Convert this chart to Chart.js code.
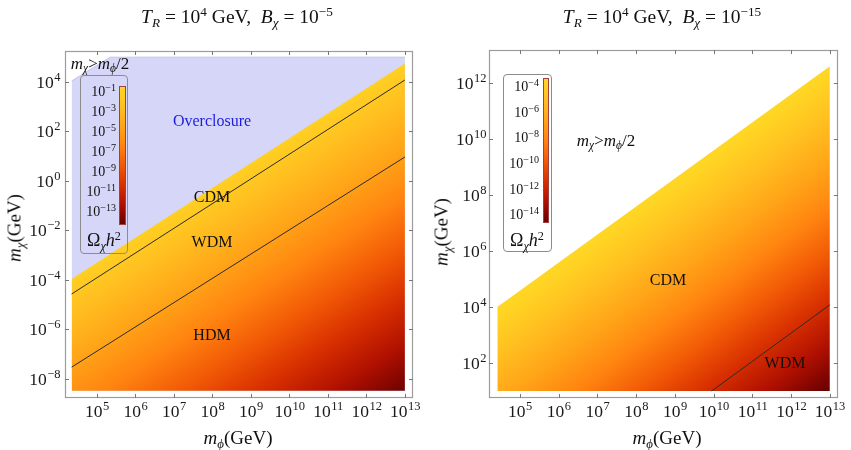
<!DOCTYPE html>
<html lang="en">
<head>
<meta charset="UTF-8">
<title>Relic density of chi, T_R = 1e4 GeV</title>
<style>
body { margin: 0; background: #fff; font-family: "Liberation Serif", "DejaVu Serif", serif; color: #111; }
#page { position: relative; width: 851px; height: 450px; overflow: hidden; }
.panel { position: absolute; top: 0; }
.txt { position: absolute; white-space: nowrap; transform: translate(-50%, -50%); font-size: 16px; line-height: 1; }
.title { font-size: 19.5px; }
.axt { font-size: 19px; }
.roty { transform: translate(-50%, -50%) rotate(-90deg); }
sub, sup { font-size: 0.68em; line-height: 0; position: relative; vertical-align: baseline; }
sub { top: 0.3em; }
sup { top: -0.5em; }
.cbar { position: absolute; border: 1px solid #8c8c8c; border-radius: 4px; box-sizing: border-box; }
.bar { position: absolute; border: 1px solid #a04040; box-sizing: border-box; }
.blab { position: absolute; font-size: 14px; line-height: 1; transform: translate(-100%, -50%); white-space: nowrap; }
.blab sup { font-size: 0.72em; }
</style>
<script src="https://cdn.jsdelivr.net/npm/chart.js"></script>
</head>
<body>
<div id="page">
    <canvas id="leftChart" class="panel" width="430" height="450" style="left:0"></canvas>
    <canvas id="rightChart" class="panel" width="421" height="450" style="left:430px"></canvas>

    <div class="txt title" style="left:237px;top:17px"><i>T<sub>R</sub></i> = 10<sup>4</sup> GeV,&nbsp; <i>B<sub>χ</sub></i> = 10<sup>−5</sup></div>
    <div class="txt title" style="left:662px;top:17px"><i>T<sub>R</sub></i> = 10<sup>4</sup> GeV,&nbsp; <i>B<sub>χ</sub></i> = 10<sup>−15</sup></div>

    <div class="txt axt" style="left:238px;top:437px"><i>m<sub>ϕ</sub></i>(GeV)</div>
    <div class="txt axt" style="left:667px;top:437px"><i>m<sub>ϕ</sub></i>(GeV)</div>
    <div class="txt axt roty" style="left:14px;top:228px"><i>m<sub>χ</sub></i>(GeV)</div>
    <div class="txt axt roty" style="left:441px;top:232px"><i>m<sub>χ</sub></i>(GeV)</div>

    <!-- region labels -->
    <div class="txt" style="left:100px;top:63px;font-size:17px"><i>m<sub>χ</sub></i>&gt;<i>m<sub>ϕ</sub></i>/2</div>
    <div class="txt" style="left:212px;top:121px;color:#1d1de0">Overclosure</div>
    <div class="txt" style="left:212px;top:197px">CDM</div>
    <div class="txt" style="left:212px;top:242px">WDM</div>
    <div class="txt" style="left:212px;top:335px">HDM</div>
    <div class="txt" style="left:606px;top:140px;font-size:17px"><i>m<sub>χ</sub></i>&gt;<i>m<sub>ϕ</sub></i>/2</div>
    <div class="txt" style="left:668px;top:280px">CDM</div>
    <div class="txt" style="left:785px;top:363px">WDM</div>
</div>

<script>
// tick positions (GeV)
const xTicks = [1e5, 1e6, 1e7, 1e8, 1e9, 1e10, 1e11, 1e12, 1e13];
const leftYTicks = [1e-8, 1e-6, 1e-4, 1e-2, 1e0, 1e2, 1e4];
const rightYTicks = [1e2, 1e4, 1e6, 1e8, 1e10, 1e12];

// colour map for log10(Omega h^2), low -> high
const heatStops = ['#6a0000', '#b01000', '#d83000', '#f25a06', '#ff8410', '#ffa418', '#ffbf20', '#ffd624'];

// left panel: B_chi = 1e-5
const leftPhi = [2.2e4, 1e13];
const leftOverclosure = [1.1e-4, 5.5e4];   // Omega h^2 = 0.12
const leftCdmWdm = [2.7e-5, 1.2e4];
const leftWdmHdm = [3.0e-8, 9.3];
const leftKinPhi = [2.2e4, 2.2e5, 1e13];   // m_chi = m_phi/2, capped by plot top
const leftKinChi = [1.1e4, 1.0e5, 1.0e5];
const leftFloor = 3.3e-9;
const leftBarExps = [-1, -3, -5, -7, -9, -11, -13];

// right panel: B_chi = 1e-15
const rightPhi = [2.6e4, 1e13];
const rightKin = [1.0e4, 4.0e12];
const rightWdmPhi = [8.9e9, 1e13];
const rightWdmChi = [10, 1.2e4];
const rightFloor = 10;
const rightBarExps = [-4, -6, -8, -10, -12, -14];

// log10(Omega h^2) = log10(m_chi/m_phi) + shift ; colour range per panel
const leftShift = 7.3, rightShift = -2.7;
const leftRange = [-14.3, -0.4], rightRange = [-14.6, -3.3];

const pts = (xs, ys) => xs.map((x, i) => ({x: x, y: ys[i]}));

// linear gradient along the direction in which m_chi/m_phi changes
function heatFill(shift, range) {
    return (ctx) => {
        const chart = ctx.chart;
        if (!chart.chartArea) return heatStops[4];
        const sx = chart.scales.x, sy = chart.scales.y;
        const a = sx.getPixelForValue(1e13) - sx.getPixelForValue(1e12);
        const b = sy.getPixelForValue(1) - sy.getPixelForValue(10);
        const u0 = range[0] - shift, u1 = range[1] - shift;
        const gx = -1 / a, gy = -1 / b, g2 = gx * gx + gy * gy;
        const x0 = sx.getPixelForValue(1e13), y0 = sy.getPixelForValue(Math.pow(10, 13 + u0));
        const s = (u1 - u0) / g2;
        const grad = chart.ctx.createLinearGradient(x0, y0, x0 + s * gx, y0 + s * gy);
        heatStops.forEach((c, i) => grad.addColorStop(i / (heatStops.length - 1), c));
        return grad;
    };
}

const BASE_FONT = "17.5px 'Liberation Serif', 'DejaVu Serif', serif";
const EXP_FONT = "12.5px 'Liberation Serif', 'DejaVu Serif', serif";

// "10" with a raised exponent; align 'center' or 'right'
function drawPow(ctx, value, x, y, align) {
    const base = '10', exp = String(Math.round(Math.log10(value))).replace('-', '−');
    ctx.font = BASE_FONT;
    const wb = ctx.measureText(base).width;
    ctx.font = EXP_FONT;
    const we = ctx.measureText(exp).width;
    const left = align === 'center' ? x - (wb + we) / 2 : x - wb - we;
    ctx.font = BASE_FONT;
    ctx.fillText(base, left, y);
    ctx.font = EXP_FONT;
    ctx.fillText(exp, left + wb + 0.5, y - 7);
}

// frame with inward ticks on all four sides, plus tick labels
const framePlugin = {
    id: 'frame',
    afterDraw(chart, args, opts) {
        const {ctx, chartArea: a, scales: {x, y}} = chart;
        ctx.save();
        ctx.strokeStyle = '#9c9c9c';
        ctx.lineWidth = 1.2;
        ctx.strokeRect(a.left + 0.5, a.top + 0.5, a.width - 1, a.height - 1);
        ctx.strokeStyle = '#777';
        ctx.lineWidth = 1;
        ctx.beginPath();
        x.ticks.forEach(t => {
            const p = Math.round(x.getPixelForValue(t.value)) + 0.5;
            ctx.moveTo(p, a.bottom); ctx.lineTo(p, a.bottom - 4);
            ctx.moveTo(p, a.top); ctx.lineTo(p, a.top + 4);
        });
        y.ticks.forEach(t => {
            const p = Math.round(y.getPixelForValue(t.value)) + 0.5;
            ctx.moveTo(a.left, p); ctx.lineTo(a.left + 4, p);
            ctx.moveTo(a.right, p); ctx.lineTo(a.right - 4, p);
        });
        ctx.stroke();

        ctx.fillStyle = '#1a1a1a';
        ctx.textAlign = 'left';
        ctx.textBaseline = 'alphabetic';
        x.ticks.forEach(t => drawPow(ctx, t.value, x.getPixelForValue(t.value), a.bottom + 19, 'center'));
        y.ticks.forEach(t => drawPow(ctx, t.value, a.left - opts.yGap, y.getPixelForValue(t.value) + 6, 'right'));
        ctx.restore();
    }
};

function axes(xMin, xMax, yMin, yMax, yTicks, yWidth) {
    return {
        x: {
            type: 'logarithmic', min: xMin, max: xMax,
            grid: {display: false}, border: {display: false},
            afterBuildTicks: s => { s.ticks = xTicks.map(v => ({value: v})); },
            afterFit: s => { s.height = 52; },
            ticks: {display: false}
        },
        y: {
            type: 'logarithmic', min: yMin, max: yMax,
            grid: {display: false}, border: {display: false},
            afterBuildTicks: s => { s.ticks = yTicks.map(v => ({value: v})); },
            afterFit: s => { s.width = yWidth; },
            ticks: {display: false}
        }
    };
}

new Chart(document.getElementById('leftChart'), {
    type: 'line',
    data: {
        datasets: [
            {data: pts(leftPhi, leftCdmWdm), borderColor: '#2b2b2b', borderWidth: 1, fill: false},
            {data: pts(leftPhi, leftWdmHdm), borderColor: '#2b2b2b', borderWidth: 1, fill: false},
            {data: pts(leftPhi, leftOverclosure), borderColor: 'rgba(0,0,0,0)', backgroundColor: heatFill(leftShift, leftRange), fill: {value: leftFloor}},
            {data: pts(leftKinPhi, leftKinChi), borderColor: '#c4c4ee', borderWidth: 1, backgroundColor: '#d6d6f8', fill: {value: leftFloor}}
        ]
    },
    options: {
        responsive: false,
        animation: false,
        plugins: {legend: {display: false}, tooltip: {enabled: false}, frame: {yGap: 5}},
        elements: {point: {radius: 0}, line: {tension: 0}},
        layout: {padding: {top: 51, right: 17, left: 0, bottom: 0}},
        scales: axes(Math.pow(10, 4.17), Math.pow(10, 13.21), Math.pow(10, -8.77), Math.pow(10, 5.25), leftYTicks, 65)
    },
    plugins: [framePlugin]
});

new Chart(document.getElementById('rightChart'), {
    type: 'line',
    data: {
        datasets: [
            {data: pts(rightWdmPhi, rightWdmChi), borderColor: '#2b2b2b', borderWidth: 1, fill: false},
            {data: pts(rightPhi, rightKin), borderColor: 'rgba(0,0,0,0)', backgroundColor: heatFill(rightShift, rightRange), fill: {value: rightFloor}}
        ]
    },
    options: {
        responsive: false,
        animation: false,
        plugins: {legend: {display: false}, tooltip: {enabled: false}, frame: {yGap: 3}},
        elements: {point: {radius: 0}, line: {tension: 0}},
        layout: {padding: {top: 50, right: 13, left: 0, bottom: 0}},
        scales: axes(Math.pow(10, 4.2), Math.pow(10, 13.21), Math.pow(10, 0.75), Math.pow(10, 13.18), rightYTicks, 59)
    },
    plugins: [framePlugin]
});

// colour bar legends (boxes in page pixels)
function colorBar(box, bar, range, exps, labRight, omegaPos) {
    const page = document.getElementById('page');
    const frame = document.createElement('div');
    frame.className = 'cbar';
    Object.assign(frame.style, {left: box[0] + 'px', top: box[1] + 'px', width: box[2] + 'px', height: box[3] + 'px'});
    page.appendChild(frame);
    const strip = document.createElement('div');
    strip.className = 'bar';
    Object.assign(strip.style, {left: bar[0] + 'px', top: bar[1] + 'px', width: bar[2] + 'px', height: bar[3] + 'px',
        background: 'linear-gradient(to top, ' + heatStops.join(', ') + ')'});
    page.appendChild(strip);
    exps.forEach(e => {
        const lab = document.createElement('div');
        lab.className = 'blab';
        lab.innerHTML = '10<sup>' + String(e).replace('-', '−') + '</sup>';
        const y = bar[1] + (range[1] - e) / (range[1] - range[0]) * bar[3];
        Object.assign(lab.style, {left: labRight + 'px', top: y + 'px'});
        page.appendChild(lab);
    });
    const om = document.createElement('div');
    om.className = 'txt';
    om.innerHTML = 'Ω<sub><i>χ</i></sub><i>h</i><sup>2</sup>';
    Object.assign(om.style, {left: omegaPos[0] + 'px', top: omegaPos[1] + 'px', fontSize: '18px'});
    page.appendChild(om);
}

colorBar([80, 75, 48, 179], [119, 86, 7, 139], leftRange, leftBarExps, 116, [104, 240]);
colorBar([503, 74, 49, 178], [543, 78, 6, 145], rightRange, rightBarExps, 539, [527, 240]);
</script>
</body>
</html>
